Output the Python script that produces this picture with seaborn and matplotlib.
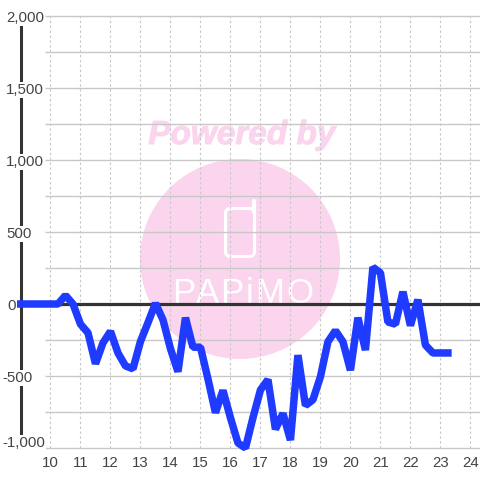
import matplotlib
matplotlib.use("Agg")
import matplotlib.pyplot as plt
import matplotlib.patheffects as pe
from matplotlib.patches import Ellipse, FancyBboxPatch
import numpy as np
import pandas as pd
import seaborn as sns

# quarter-hour values, hours 9 to 23.25
hours = np.arange(9, 23.5, 0.25)
values = [0, 0, 0, 0, 0, 0, 60, 0,
          -140, -200, -415, -270, -190, -340, -430, -450,
          -260, -130, 5, -110, -310, -470, -95, -300,
          -300, -520, -755, -600, -790, -965, -1000, -790,
          -597, -525, -870, -760, -945, -355, -705, -665,
          -505, -262, -185, -262, -460, -95, -320, 255,
          217, -125, -140, 85, -150, 30, -285, -340,
          -340, -340]
x_ticks = list(range(10, 25))
y_major = [-1000, -500, 0, 500, 1000, 1500, 2000]
y_minor = [-750, -250, 250, 750, 1250, 1750]
y_labels = ["-1,000", "-500", "0", "500", "1,000", "1,500", "2,000"]

PINK = "#fbd5ee"
GRID = "#c8c8c8"
DARK = "#333333"
BLUE = "#1f3bff"

sns.set_theme(style="white")
plt.rcParams["font.family"] = ["Liberation Sans", "DejaVu Sans"]

df = pd.DataFrame({"hour": hours, "value": values})

fig = plt.figure(figsize=(4.8, 4.8), dpi=100, facecolor="white")
ax = fig.add_axes([20.5 / 480, 32 / 480, (480 - 20.5) / 480, 432 / 480])
ax.patch.set_alpha(0)


def px(x, y):
    return x / 480, 1 - y / 480


# watermark
ax.add_patch(Ellipse(px(240, 259), 200 / 480, 200 / 480, color=PINK, lw=0,
                     transform=fig.transFigure, clip_on=False, zorder=0))
ax.text(*px(242, 144), "Powered by", transform=fig.transFigure, color=PINK,
        fontsize=24, fontweight="bold", fontstyle="italic",
        ha="center", va="baseline", zorder=0.5,
        path_effects=[pe.withStroke(linewidth=0.7, foreground=PINK)])
x0, y0 = px(225.5, 256.5)
ax.add_patch(FancyBboxPatch((x0, y0), 29 / 480, 48 / 480,
                            boxstyle=f"round,pad=0,rounding_size={5 / 480}",
                            transform=fig.transFigure, fc="none", ec="white",
                            lw=2.2, zorder=0.5))
ax.plot(*zip(px(254.5, 212), px(254.5, 201)), transform=fig.transFigure, color="white",
        lw=3, solid_capstyle="round", zorder=0.5)
for letter, lx in zip("PAPiMO", [184, 208, 232, 249, 270, 300]):
    ax.text(*px(lx, 303), letter, transform=fig.transFigure, color="white",
            fontsize=25, ha="center", va="baseline", zorder=0.5)

# grid
ax.set_xlim(9, 24.32)
ax.set_ylim(-1000, 2000)
ax.set_xticks(x_ticks)
ax.set_yticks(y_major)
ax.set_yticklabels([])
ax.grid(False)
ax.vlines(x_ticks, -1000, 2000, color=GRID, lw=0.8, linestyles=(0, (2.2, 2.2)), zorder=1)
ax.hlines(y_major + y_minor, 9.82, 24.32, color=GRID, lw=1, zorder=1, clip_on=False)
ax.axhline(0, color=DARK, lw=2.3, zorder=2)

sns.lineplot(data=df, x="hour", y="value", ax=ax, color=BLUE, lw=5.4,
             errorbar=None, zorder=3, solid_joinstyle="bevel",
             solid_capstyle="projecting", clip_on=False)
ax.set_xlabel("")
ax.set_ylabel("")

for side in ["top", "right", "bottom"]:
    ax.spines[side].set_visible(False)
ax.spines["left"].set_color(DARK)
ax.spines["left"].set_linewidth(2.2)
ax.spines["left"].set_zorder(2)

ax.tick_params(axis="both", length=0)
ax.tick_params(axis="x", labelsize=10.8, labelcolor="#444444", pad=5.5)

# y labels sit over the spine with a white box behind them
for val, lab in zip(y_major, y_labels):
    lx = 2 if val < 0 else (7.5 if val == 0 else 6)
    # lowest label is nudged up off the x labels
    dy = 3.5 if val == -1000 else -1.5
    ax.annotate(lab, xy=(lx / 480, val), xycoords=("figure fraction", "data"),
                xytext=(0, dy), textcoords="offset points",
                ha="left", va="center", fontsize=10.8, color="#444444",
                bbox=dict(fc="white", ec="none", pad=0.6), zorder=4,
                annotation_clip=False)

fig.savefig("out.png", dpi=100)
